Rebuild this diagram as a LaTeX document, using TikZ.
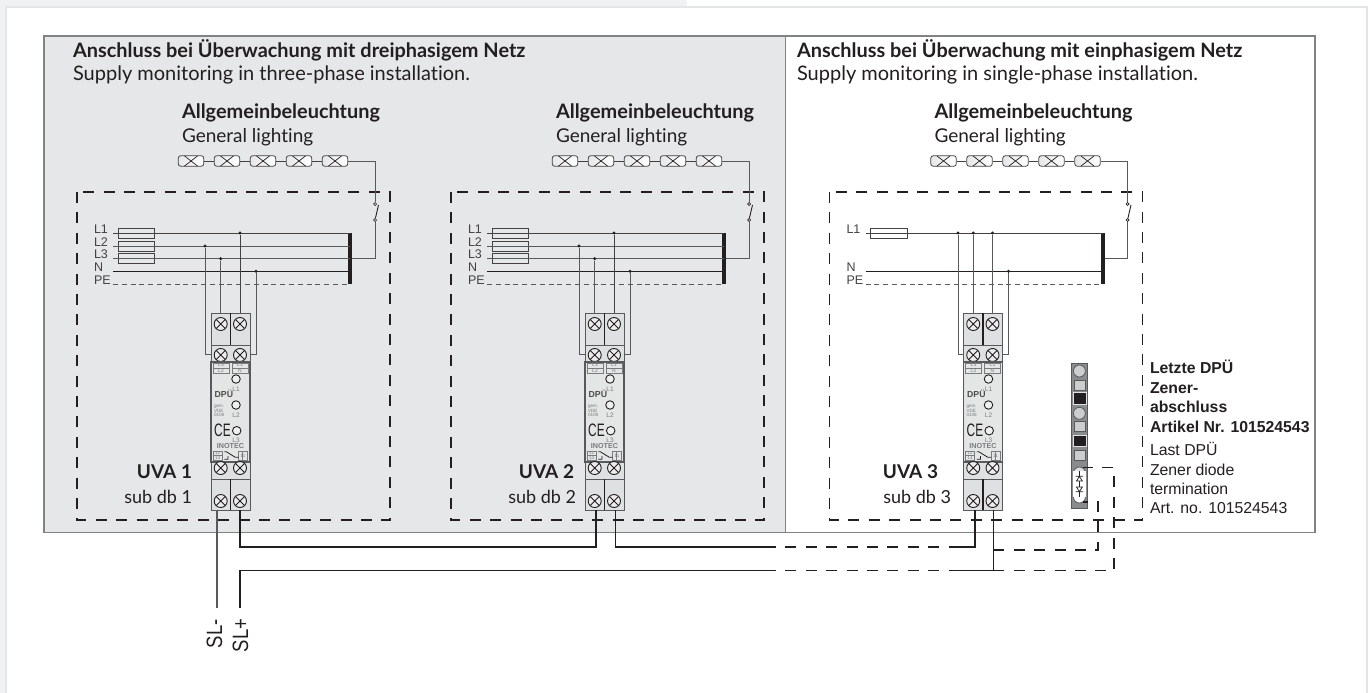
\documentclass[tikz,border=0pt]{standalone}
\usepackage{fontspec}
\setmainfont[Ligatures=NoCommon]{Lato}
\newfontfamily\arial{Liberation Sans}
\definecolor{ink}{HTML}{231F20}
\definecolor{panelgrey}{HTML}{E6E7E8}
\definecolor{frameline}{HTML}{E4E5E6}
\definecolor{stripgrey}{HTML}{F0F1F3}
\definecolor{edge}{HTML}{808285}
\definecolor{wiregrey}{HTML}{58595B}
\definecolor{modfill}{HTML}{DFE0E1}
\definecolor{modtext}{HTML}{7A7B7D}
\tikzset{
  txt/.style={inner sep=0pt,outer sep=0pt,anchor=base west,text=ink},
  head/.style={txt,font=\fontsize{19.9}{20}\selectfont\bfseries},
  sub/.style={txt,font=\fontsize{19}{19}\selectfont},
  subwide/.style={txt,font=\fontsize{20}{20}\selectfont},
  namebold/.style={inner sep=0pt,outer sep=0pt,anchor=base east,text=ink,font=\fontsize{19}{19}\selectfont\bfseries},
  namereg/.style={inner sep=0pt,outer sep=0pt,anchor=base east,text=ink,font=\fontsize{18}{18}\selectfont},
  ar/.style={txt,font=\arial\fontsize{15.8}{15.8}\selectfont},
  arb/.style={txt,font=\arial\bfseries\fontsize{15.8}{15.8}\selectfont},
  phase/.style={txt,text=ink!85,font=\arial\fontsize{12.5}{12.5}\selectfont},
  sl/.style={inner sep=0pt,outer sep=0pt,anchor=base west,rotate=90,text=ink,font=\arial\fontsize{18.5}{18.5}\selectfont},
  tiny/.style={inner sep=0pt,outer sep=0pt,anchor=base,text=modtext,font=\arial\fontsize{#1}{#1}\selectfont},
  tinyb/.style={inner sep=0pt,outer sep=0pt,anchor=base,text=modtext,font=\arial\bfseries\fontsize{#1}{#1}\selectfont},
  boxdash/.style={draw=ink,line width=1.2pt,dash pattern=on 11pt off 9.4pt},
  wiredash/.style={draw=ink,line width=1.2pt,dash pattern=on 11pt off 9.4pt},
  pedash/.style={draw=wiregrey,line width=1pt,dash pattern=on 5pt off 3.8pt},
  wire/.style={draw=ink!85,line width=1pt},
  wireb/.style={draw=ink,line width=1.1pt},
  wireg/.style={draw=wiregrey,line width=1pt},
  dotj/.style={circle,fill=ink,inner sep=0pt,minimum size=3.4pt},
  fusebox/.style={draw=ink!85,line width=.9pt,minimum width=36.5pt,minimum height=10pt,inner sep=0pt},
  lampbox/.style={draw=ink!85,line width=.8pt,rounded corners=2.5pt,minimum width=25.5pt,minimum height=10.5pt,inner sep=0pt,left color=panelgrey,right color=white,
     path picture={\draw[ink,line width=.7pt] ([xshift=6pt]path picture bounding box.south west)--([xshift=-6pt]path picture bounding box.north east) ([xshift=6pt]path picture bounding box.north west)--([xshift=-6pt]path picture bounding box.south east);}},
  swdot/.style={circle,draw=ink,fill=white,line width=.7pt,inner sep=0pt,minimum size=3pt},
  screw/.style={circle,draw=ink,line width=.9pt,fill=modfill!60!white,inner sep=0pt,minimum size=13pt,
     path picture={\draw[ink,line width=.9pt] (path picture bounding box.south west)--(path picture bounding box.north east) (path picture bounding box.north west)--(path picture bounding box.south east);}},
  led/.style={circle,draw=ink,line width=.9pt,fill=modfill!50!white,inner sep=0pt,minimum size=8.5pt},
  modline/.style={draw=wiregrey,line width=.9pt},
  cellline/.style={draw=modtext,line width=.6pt},
}
\newcommand{\boardcommon}[3]{%
  \draw[boxdash] (77,192) rectangle (390,520);
  \foreach \i/\x in {1/191,2/227,3/263,4/299,5/335}{\node[lampbox] (lamp\i) at (\x,161) {};}
  \draw[wire] (lamp1)--(lamp2) (lamp2)--(lamp3) (lamp3)--(lamp4) (lamp4)--(lamp5);
  \node[head] (ttl) at (182,118) {Allgemeinbeleuchtung};
  \node[sub] (ttlb) at (182,142.7) {General lighting};
  \node[namebold] (name) at (#2,478) {UVA #1};
  \node[namereg] (nameb) at (#3,503) {sub db #1};
  \coordinate (Ns) at (113,271.3); \coordinate (Ne) at (350,271.3);
  \coordinate (PEs) at (113,284); \coordinate (PEe) at (350,284);
  \coordinate (L1e) at (350,233);
  \coordinate (tap) at (350,258.7);
  \coordinate (swx) at (375,258.7);
  \coordinate (lampc) at (375,161);
  \node[swdot] (swa) at (375,204) {};
  \node[swdot] (swb) at (375,220) {};
  \coordinate (bladetop) at (378.5,205);
  \draw[wireb] (Ns)--(Ne);
  \draw[pedash] (PEs)--(PEe);
  \draw[wireg] (tap)--(swx)--(swb);
  \draw[wireg] (lamp5)--(lampc)--(swa);
  \draw[draw=ink,line width=.9pt] (bladetop)--(swb);
  \draw[draw=ink,line width=4pt] (L1e)--(PEe);
  \node[phase] (lblN) at (94,271.3) {N};
  \node[phase] (lblPE) at (94,284) {PE};
  \node[phase] (lblL1) at (94,233) {L1};
}
\newcommand{\dpumodule}{%
  \fill[modfill] (211,313.3) rectangle (250,510);
  \draw[modline] (211,313.3) rectangle (250,345);
  \draw[modline] (211,345) rectangle (250,362);
  \draw[draw=ink,line width=1.5pt] (230.5,313.3)--(230.5,345);
  \node[screw] (t1) at (220.7,324) {};
  \node[screw] (t2) at (240,324) {};
  \node[screw] (s1) at (220.7,355) {};
  \node[screw] (s2) at (240,355) {};
  \fill[modfill!85!white] (212,362) rectangle (249,462);
  \draw[draw=wiregrey,line width=1.4pt] (211,362) rectangle (250,462);
  \draw[cellline] (213,363) rectangle (229,373) (232,363) rectangle (248,373) (213,368)--(229,368) (232,368)--(248,368);
  \node[tiny=5] (c1) at (221,366.6) {L3};
  \node[tiny=5] (c2) at (221,372) {L2};
  \node[tiny=5] (c3) at (240,366.6) {L1};
  \node[tiny=5] (c4) at (240,372) {N};
  \node[led] (led1) at (236,379) {};
  \node[led] (led2) at (236,405) {};
  \node[led] (led3) at (236.7,430.7) {};
  \node[tiny=6.5] (ll1) at (236,391) {L1};
  \node[tiny=6.5] (ll2) at (236,417) {L2};
  \node[tiny=6.5] (ll3) at (236,442.5) {L3};
  \node[inner sep=0pt,anchor=base west,text=ink!80,font=\arial\bfseries\fontsize{8.7}{8.7}\selectfont] (dpu) at (214.5,397.7) {DPÜ};
  \node[tiny=4.6,anchor=base west] (g1) at (214,407) {gem.};
  \node[tiny=4.6,anchor=base west] (g2) at (214,412) {VDE};
  \node[tiny=4.6,anchor=base west] (g3) at (214,416.7) {0108};
  \node[inner sep=0pt,anchor=base west,text=ink,font=\arial\fontsize{18}{18}\selectfont] (ce) at (214,436) {\scalebox{.66}[1]{CE}};
  \node[tinyb=7.2,anchor=base] (ino) at (230.5,448.3) {INOTEC};
  \draw[cellline] (213,451) rectangle (222,460) (213,455.4)--(222,455.4) (238.5,451) rectangle (247.5,460) (242.7,451)--(242.7,460);
  \node[tiny=4.4] (r1) at (217.5,454.6) {12};
  \node[tiny=4.4] (r2) at (217.5,459.2) {14};
  \node[tiny=4.4] (r3) at (243,457.2) {11};
  \draw[draw=ink,line width=.8pt] (224.3,451.7)--(226.3,451.7)--(235.3,457.3)--(238.7,457.3) (224.3,459.3)--(228,459.3)--(228,456);
  \draw[modline] (211,462) rectangle (250,479);
  \draw[modline] (211,479) rectangle (250,510);
  \draw[draw=ink,line width=1.5pt] (230.5,479)--(230.5,510);
  \node[screw] (s3) at (220.7,468) {};
  \node[screw] (s4) at (240,468) {};
  \node[screw] (b1) at (220.7,501) {};
  \node[screw] (b2) at (240,501) {};
  \coordinate (bl) at (220.7,510); \coordinate (br) at (240,510);
  \coordinate (tl) at (220.7,313.3); \coordinate (tr) at (240,313.3);
  \coordinate (sl) at (211,354); \coordinate (sr) at (250,354);
}
\begin{document}
\begin{tikzpicture}[x=1pt,y=-1pt]
\useasboundingbox (0,0) rectangle (1370,693);
\fill[white] (0,0) rectangle (1370,693);
\fill[stripgrey] (0,0) rectangle (687,6);
\fill[stripgrey] (0,0) rectangle (5,693);
\draw[frameline,line width=2.4pt] (6,693)--(6,7)--(1367,7)--(1367,693);
\fill[panelgrey] (44,36) rectangle (785.5,532.5);
\draw[edge,line width=1.3pt] (44,36) rectangle (1315,532.5);
\draw[edge,line width=1.3pt] (785.5,36)--(785.5,532.5);
\node[head] (h1) at (73,57) {Anschluss bei Überwachung mit dreiphasigem Netz};
\node[subwide] (h1b) at (73,81) {Supply monitoring in three-phase installation.};
\node[head] (h2) at (797,57) {Anschluss bei Überwachung mit einphasigem Netz};
\node[subwide] (h2b) at (797,81) {Supply monitoring in single-phase installation.};
\foreach \u/\dx/\ra/\rb in {1/0/192/192,2/374/200/202}{
\begin{scope}[shift={(\dx,0)},name prefix=u\u-]
  \boardcommon{\u}{\ra}{\rb}
  \coordinate (L1s) at (113,233); \coordinate (L2s) at (113,246); \coordinate (L3s) at (113,258.7);
  \coordinate (L2e) at (350,246);
  \node[fusebox] (f1) at (136.3,233) {};
  \node[fusebox] (f2) at (136.3,246) {};
  \node[fusebox] (f3) at (136.3,258.7) {};
  \draw[wire] (L1s)--(L1e);
  \draw[wireg] (L2s)--(L2e);
  \draw[wireg] (L3s)--(tap);
  \node[phase] (lblL2) at (94,246) {L2};
  \node[phase] (lblL3) at (94,258.7) {L3};
  \dpumodule
  \node[dotj] (j2) at (205,246) {};
  \node[dotj] (j3) at (220.7,258.7) {};
  \node[dotj] (j1) at (240,233) {};
  \node[dotj] (jn) at (256,271.3) {};
  \draw[wireg] (j2)--(205,354)--(sl);
  \draw[wireg] (j3)--(tl);
  \draw[wire] (j1)--(tr);
  \draw[wireg] (jn)--(256,354)--(sr);
\end{scope}}
\begin{scope}[shift={(752.5,0)},name prefix=u3-]
  \boardcommon{3}{185.5}{198.5}
  \coordinate (L1s) at (113,233);
  \node[fusebox] (f1) at (136.3,233) {};
  \draw[wire] (L1s)--(L1e);
  \dpumodule
  \node[dotj] (j2) at (205.5,233) {};
  \node[dotj] (j3) at (220.7,233) {};
  \node[dotj] (j1) at (240,233) {};
  \node[dotj] (jn) at (256,271.3) {};
  \draw[wireg] (j2)--(205.5,354)--(sl);
  \draw[wireg] (j3)--(tl);
  \draw[wireg] (j1)--(tr);
  \draw[wireg] (jn)--(256,354)--(sr);
\end{scope}
\fill[wiregrey!70] (1071.7,363.3) rectangle (1087.3,508.3);
\draw[wiregrey,line width=.8pt] (1071.7,363.3) rectangle (1087.3,508.3);
\tikzset{zk/.style={draw=wiregrey,line width=.8pt,fill=modfill!80!gray}}
\draw[zk] (1079.4,371) circle [radius=6pt];
\draw[zk] (1074,380) rectangle (1085,390);
\fill[ink,draw=modfill,line width=.8pt] (1073,392.7) rectangle (1086,404);
\draw[zk] (1079.4,413.3) circle [radius=6pt];
\draw[zk] (1074,421) rectangle (1085,431.7);
\fill[ink,draw=modfill,line width=.8pt] (1073,435.7) rectangle (1086,446);
\draw[zk] (1074,450) rectangle (1085,460);
\draw[zk,fill=modfill] (1079.4,473) circle [radius=6pt];
\draw[zk,fill=white] (1079.4,497) circle [radius=6pt];
\fill[white] (1073,471) rectangle (1086,497);
\draw[draw=ink,line width=.7pt] (1079.4,471)--(1079.4,497);
\draw[draw=ink,line width=.7pt,fill=white] (1076.4,481)--(1082.4,481)--(1079.4,476.5)--cycle (1075.6,476.2)--(1083.2,476.2);
\draw[draw=ink,line width=.7pt,fill=white] (1076.4,487)--(1082.4,487)--(1079.4,491.5)--cycle (1075.6,491.8)--(1083.2,491.8);
\node[inner sep=0pt,minimum size=0pt] (zt) at (1083,467.7) {};
\node[inner sep=0pt,minimum size=0pt] (zb) at (1083,502) {};
\node[arb] (z1) at (1150,373.3) {Letzte DPÜ};
\node[arb] (z2) at (1150,393.3) {Zener-};
\node[arb] (z3) at (1150,412.7) {abschluss};
\node[arb] (z4) at (1150,432.7) {Artikel Nr. 101524543};
\node[ar] (z5) at (1150,455) {Last DPÜ};
\node[ar] (z6) at (1150,475) {Zener diode};
\node[ar] (z7) at (1150,494.3) {termination};
\node[ar] (z8) at (1150,513.3) {Art. no. 101524543};
\coordinate (sls) at (217,510);
\coordinate (sle) at (217,608);
\coordinate (spe) at (240,608);
\coordinate (a1) at (240,547);
\coordinate (a2) at (596,547);
\coordinate (b1) at (615.6,547);
\coordinate (b2) at (765,547);
\coordinate (b3) at (960,547);
\coordinate (b4) at (975,547);
\coordinate (c1) at (240,570.7);
\coordinate (c2) at (765,570.7);
\coordinate (c3) at (960,570.7);
\coordinate (c4) at (993.3,570.7);
\coordinate (d1) at (993.3,550);
\coordinate (d2) at (1098,550);
\coordinate (d3) at (1098,502);
\coordinate (e2) at (1114,570.7);
\coordinate (e3) at (1114,467.7);
\draw[wiregrey,line width=1.4pt] (sls)--(sle);
\draw[wireb] (u1-br)--(a1)--(a2)--(596,510);
\draw[wireb] (615.6,510)--(b1)--(b2);
\draw[wiredash] (b2)--(b3);
\draw[wireb] (b3)--(b4)--(975,510);
\draw[wireb] (spe)--(c1)--(c2);
\draw[wiredash] (c2)--(c3);
\draw[wireb] (c3)--(c4)--(993.3,510);
\draw[wiredash] (d1)--(d2)--(d3)--(zb);
\draw[wiredash] (c4)--(e2)--(e3)--(zt);
\node[sl] (slm) at (222,648) {\scalebox{1}[1.2]{SL-}};
\node[sl] (slp) at (248,652) {\scalebox{1}[1.2]{SL+}};
\end{tikzpicture}
\end{document}
